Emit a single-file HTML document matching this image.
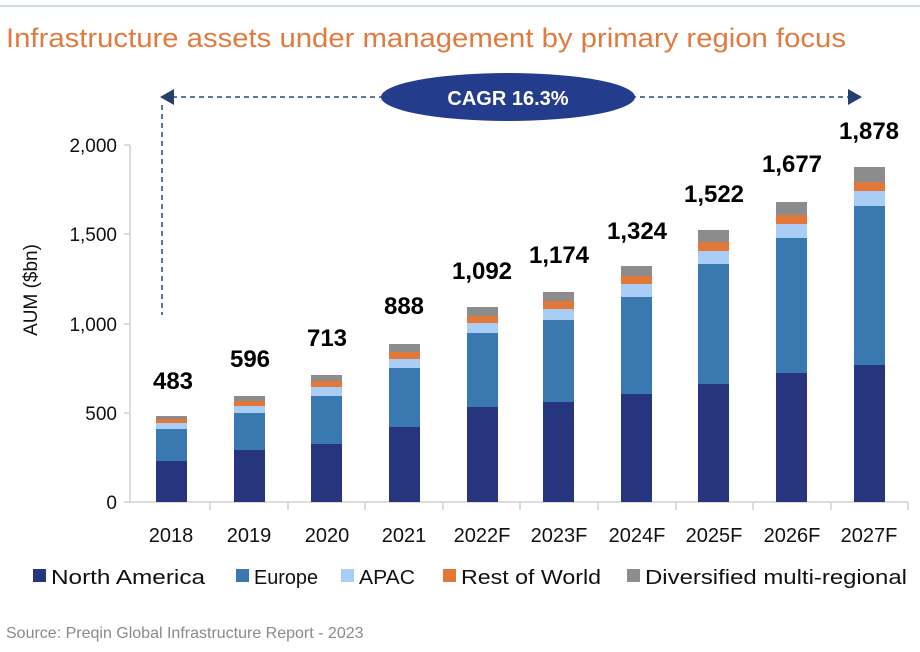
<!DOCTYPE html>
<html><head><meta charset="utf-8"><style>
html,body{margin:0;padding:0;background:#fff;}
svg{display:block;}
text{font-family:"Liberation Sans",Arial,sans-serif;}
</style></head><body>
<svg width="920" height="652" viewBox="0 0 920 652" xmlns="http://www.w3.org/2000/svg">
<line x1="0" y1="6" x2="920" y2="6" stroke="#9fb5cf" stroke-width="1"/>
<text x="6" y="47" font-size="27" fill="#e07a3f" textLength="840" lengthAdjust="spacingAndGlyphs">Infrastructure assets under management by primary region focus</text>

<!-- CAGR -->
<line x1="172" y1="97" x2="848" y2="97" stroke="#2c4a7c" stroke-width="1.5" stroke-dasharray="5,4"/>
<polygon points="160,97 174,89 174,105" fill="#24406e"/>
<polygon points="862,97 848,89 848,105" fill="#24406e"/>
<line x1="162" y1="105" x2="162" y2="315" stroke="#2c4a7c" stroke-width="1.5" stroke-dasharray="5,4"/>
<ellipse cx="508" cy="97" rx="127" ry="24" fill="#233c8c"/>
<text x="508" y="105" font-size="20" font-weight="bold" fill="#fff" text-anchor="middle">CAGR  16.3%</text>

<!-- axes -->
<line x1="130" y1="145" x2="130" y2="502" stroke="#d0d0d0" stroke-width="1.5"/>
<line x1="130" y1="502" x2="908" y2="502" stroke="#d0d0d0" stroke-width="1.5"/>
<g stroke="#d0d0d0" stroke-width="1.5">
<line x1="124" y1="145" x2="130" y2="145"/><line x1="124" y1="234" x2="130" y2="234"/><line x1="124" y1="324" x2="130" y2="324"/><line x1="124" y1="413" x2="130" y2="413"/><line x1="124" y1="502" x2="130" y2="502"/>
<line x1="210" y1="502" x2="210" y2="510"/><line x1="288" y1="502" x2="288" y2="510"/><line x1="365" y1="502" x2="365" y2="510"/><line x1="443" y1="502" x2="443" y2="510"/><line x1="520" y1="502" x2="520" y2="510"/><line x1="598" y1="502" x2="598" y2="510"/><line x1="676" y1="502" x2="676" y2="510"/><line x1="753" y1="502" x2="753" y2="510"/><line x1="831" y1="502" x2="831" y2="510"/><line x1="908" y1="502" x2="908" y2="510"/>
</g>
<g font-size="19" fill="#111" text-anchor="end">
<text x="117" y="152">2,000</text><text x="117" y="241">1,500</text><text x="117" y="331">1,000</text><text x="117" y="420">500</text><text x="117" y="509">0</text>
</g>
<text transform="translate(37,290) rotate(-90)" font-size="19" fill="#111" text-anchor="middle">AUM ($bn)</text>

<g>
<rect x="156" y="461" width="31" height="41" fill="#27347e"/><rect x="156" y="429" width="31" height="32" fill="#3a78b0"/><rect x="156" y="423" width="31" height="6" fill="#a9cdf5"/><rect x="156" y="419" width="31" height="4" fill="#e2773a"/><rect x="156" y="416" width="31" height="3" fill="#8c8c8c"/>
<rect x="234" y="450" width="31" height="52" fill="#27347e"/><rect x="234" y="413" width="31" height="37" fill="#3a78b0"/><rect x="234" y="406" width="31" height="7" fill="#a9cdf5"/><rect x="234" y="401" width="31" height="5" fill="#e2773a"/><rect x="234" y="396" width="31" height="5" fill="#8c8c8c"/>
<rect x="311" y="444" width="31" height="58" fill="#27347e"/><rect x="311" y="396" width="31" height="48" fill="#3a78b0"/><rect x="311" y="387" width="31" height="9" fill="#a9cdf5"/><rect x="311" y="381" width="31" height="6" fill="#e2773a"/><rect x="311" y="375" width="31" height="6" fill="#8c8c8c"/>
<rect x="389" y="427" width="31" height="75" fill="#27347e"/><rect x="389" y="368" width="31" height="59" fill="#3a78b0"/><rect x="389" y="359" width="31" height="9" fill="#a9cdf5"/><rect x="389" y="352" width="31" height="7" fill="#e2773a"/><rect x="389" y="344" width="31" height="8" fill="#8c8c8c"/>
<rect x="467" y="407" width="31" height="95" fill="#27347e"/><rect x="467" y="333" width="31" height="74" fill="#3a78b0"/><rect x="467" y="323" width="31" height="10" fill="#a9cdf5"/><rect x="467" y="316" width="31" height="7" fill="#e2773a"/><rect x="467" y="307" width="31" height="9" fill="#8c8c8c"/>
<rect x="543" y="402" width="31" height="100" fill="#27347e"/><rect x="543" y="320" width="31" height="82" fill="#3a78b0"/><rect x="543" y="309" width="31" height="11" fill="#a9cdf5"/><rect x="543" y="301" width="31" height="8" fill="#e2773a"/><rect x="543" y="292" width="31" height="9" fill="#8c8c8c"/>
<rect x="621" y="394" width="31" height="108" fill="#27347e"/><rect x="621" y="297" width="31" height="97" fill="#3a78b0"/><rect x="621" y="284" width="31" height="13" fill="#a9cdf5"/><rect x="621" y="276" width="31" height="8" fill="#e2773a"/><rect x="621" y="266" width="31" height="10" fill="#8c8c8c"/>
<rect x="698" y="384" width="31" height="118" fill="#27347e"/><rect x="698" y="264" width="31" height="120" fill="#3a78b0"/><rect x="698" y="251" width="31" height="13" fill="#a9cdf5"/><rect x="698" y="242" width="31" height="9" fill="#e2773a"/><rect x="698" y="230" width="31" height="12" fill="#8c8c8c"/>
<rect x="776" y="373" width="31" height="129" fill="#27347e"/><rect x="776" y="238" width="31" height="135" fill="#3a78b0"/><rect x="776" y="224" width="31" height="14" fill="#a9cdf5"/><rect x="776" y="215" width="31" height="9" fill="#e2773a"/><rect x="776" y="202" width="31" height="13" fill="#8c8c8c"/>
<rect x="854" y="365" width="31" height="137" fill="#27347e"/><rect x="854" y="206" width="31" height="159" fill="#3a78b0"/><rect x="854" y="191" width="31" height="15" fill="#a9cdf5"/><rect x="854" y="182" width="31" height="9" fill="#e2773a"/><rect x="854" y="167" width="31" height="15" fill="#8c8c8c"/>
</g>

<g font-size="24" font-weight="bold" fill="#000" text-anchor="middle">
<text x="173" y="389">483</text><text x="250" y="367">596</text><text x="327" y="346">713</text><text x="404" y="314">888</text><text x="482" y="279">1,092</text><text x="559" y="263">1,174</text><text x="637" y="239">1,324</text><text x="714" y="202">1,522</text><text x="792" y="172">1,677</text><text x="869" y="139">1,878</text>
</g>

<g font-size="20" fill="#111" text-anchor="middle">
<text x="171" y="542">2018</text><text x="249" y="542">2019</text><text x="327" y="542">2020</text><text x="404" y="542">2021</text><text x="482" y="542">2022F</text><text x="559" y="542">2023F</text><text x="637" y="542">2024F</text><text x="714" y="542">2025F</text><text x="792" y="542">2026F</text><text x="869" y="542">2027F</text>
</g>

<g font-size="20" fill="#111">
<rect x="33" y="569" width="13" height="13" fill="#27347e"/><text x="51" y="584" textLength="154" lengthAdjust="spacingAndGlyphs">North America</text>
<rect x="236" y="569" width="13" height="13" fill="#3a78b0"/><text x="254" y="584" textLength="64" lengthAdjust="spacingAndGlyphs">Europe</text>
<rect x="341" y="569" width="13" height="13" fill="#a9cdf5"/><text x="359" y="584" textLength="56" lengthAdjust="spacingAndGlyphs">APAC</text>
<rect x="443" y="569" width="13" height="13" fill="#e2773a"/><text x="461" y="584" textLength="140" lengthAdjust="spacingAndGlyphs">Rest of World</text>
<rect x="627" y="569" width="13" height="13" fill="#8c8c8c"/><text x="645" y="584" textLength="262" lengthAdjust="spacingAndGlyphs">Diversified multi-regional</text>
</g>

<text x="6" y="638" font-size="16" fill="#8a8a8a">Source: Preqin Global Infrastructure Report - 2023</text>
</svg>
</body></html>
